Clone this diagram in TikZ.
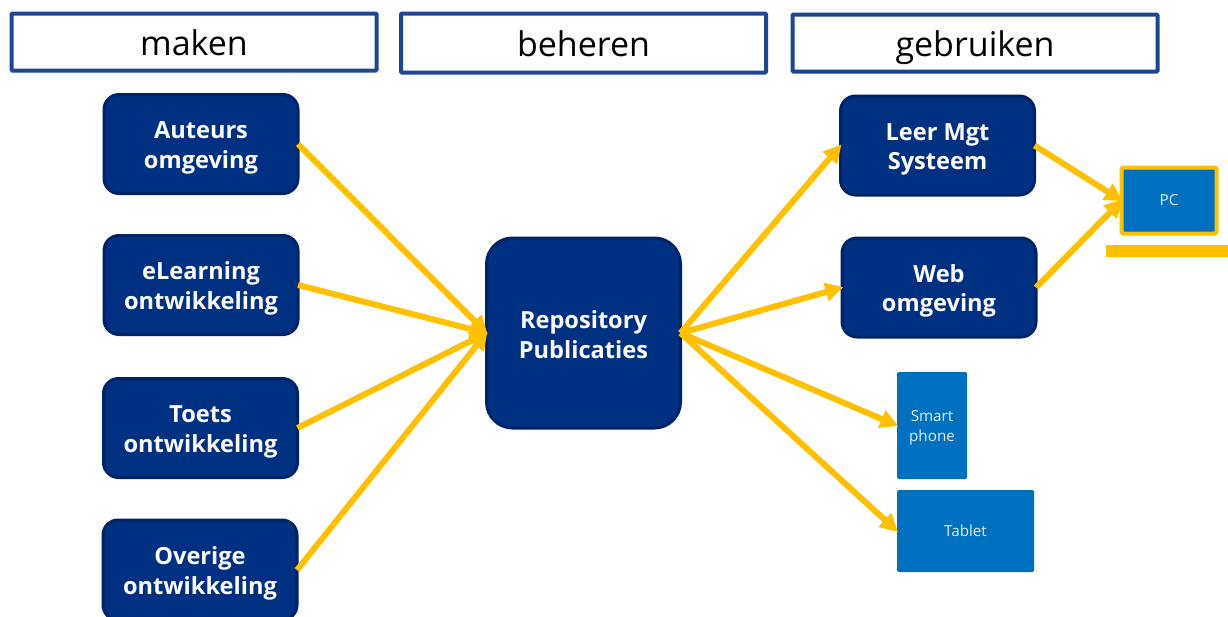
\documentclass[tikz,border=0pt]{standalone}
\usepackage{fontspec}
\setmainfont{Open Sans}
\usetikzlibrary{arrows.meta}
\definecolor{navy}{HTML}{003082}
\definecolor{navyline}{HTML}{002366}
\definecolor{headline}{HTML}{1F4590}
\definecolor{midblue}{HTML}{0070C0}
\definecolor{amber}{HTML}{FFC000}
\tikzset{
  x=1pt,y=-1pt,
  head/.style={draw=headline,line width=4pt,fill=white,rounded corners=1pt,inner sep=0pt,outer sep=0pt,
    text height=30pt,text depth=4pt,
    font=\fontsize{34}{38}\selectfont,text=black},
  proc/.style={draw=navyline,line width=3pt,fill=navy,rounded corners=15pt,inner sep=0pt,outer sep=0pt,
    minimum width=194pt,minimum height=99pt,align=center,text=white,
    text height=52pt,text depth=4pt,
    font=\fontsize{23.6}{29.5}\selectfont\bfseries},
  device/.style={fill=midblue,rounded corners=1.5pt,inner sep=0pt,outer sep=0pt,align=center,text=white!88!midblue,
    font=\fontsize{15.2}{19.5}\selectfont},
  conn/.style={draw=amber,line width=6pt,shorten >=-1.5pt,-{Triangle[length=18pt,width=18pt]}},
}
\begin{document}
\begin{tikzpicture}
\path[use as bounding box] (0,0) rectangle (1228,616);
\node[head,minimum width=365pt,minimum height=57pt] (maken) at (194,42) {maken};
\node[head,minimum width=365pt,minimum height=59pt] (beheren) at (583.5,43) {beheren};
\node[head,minimum width=365pt,minimum height=57pt] (gebruiken) at (975,43) {gebruiken};

\node[proc] (auteurs) at (201,144) {Auteurs\\omgeving};
\node[proc] (elearn) at (201,285) {eLearning\\ontwikkeling};
\node[proc] (toets) at (200.5,428) {Toets\\ontwikkeling};
\node[proc,minimum height=100pt] (overige) at (200,570) {Overige\\ontwikkeling};
\node[proc,minimum height=190pt,rounded corners=26pt,text height=53pt,text depth=3pt] (repo) at (583.5,333) {Repository\\Publicaties};
\node[proc] (leer) at (937.5,145.5) {Leer Mgt\\Systeem};
\node[proc] (web) at (939,287.5) {Web\\omgeving};

\node[device,minimum width=70pt,minimum height=107pt,text height=34pt,text depth=3pt] (smart) at (932,425.5) {Smart\\phone};
\node[device,minimum width=137pt,minimum height=82pt] (tablet) at (965.5,531) {Tablet};
\node[device,draw=amber,line width=4pt,minimum width=95pt,minimum height=66pt] (pc) at (1169,200.5) {PC};
\node[fill=amber,inner sep=0pt,outer sep=0pt,minimum width=122pt,minimum height=12pt] (bar) at (1167,251) {};

\draw[conn] (auteurs.east) -- (repo.west);
\draw[conn] (elearn.east) -- (repo.west);
\draw[conn] (toets.east) -- (repo.west);
\draw[conn] (overige.east) -- (repo.west);
\draw[conn] (repo.east) -- (leer.west);
\draw[conn] (repo.east) -- (web.west);
\draw[conn] (repo.east) -- (smart.west);
\draw[conn] (repo.east) -- (tablet.west);
\draw[conn] (leer.east) -- (pc.west);
\draw[conn] (web.east) -- (pc.west);
\end{tikzpicture}
\end{document}
